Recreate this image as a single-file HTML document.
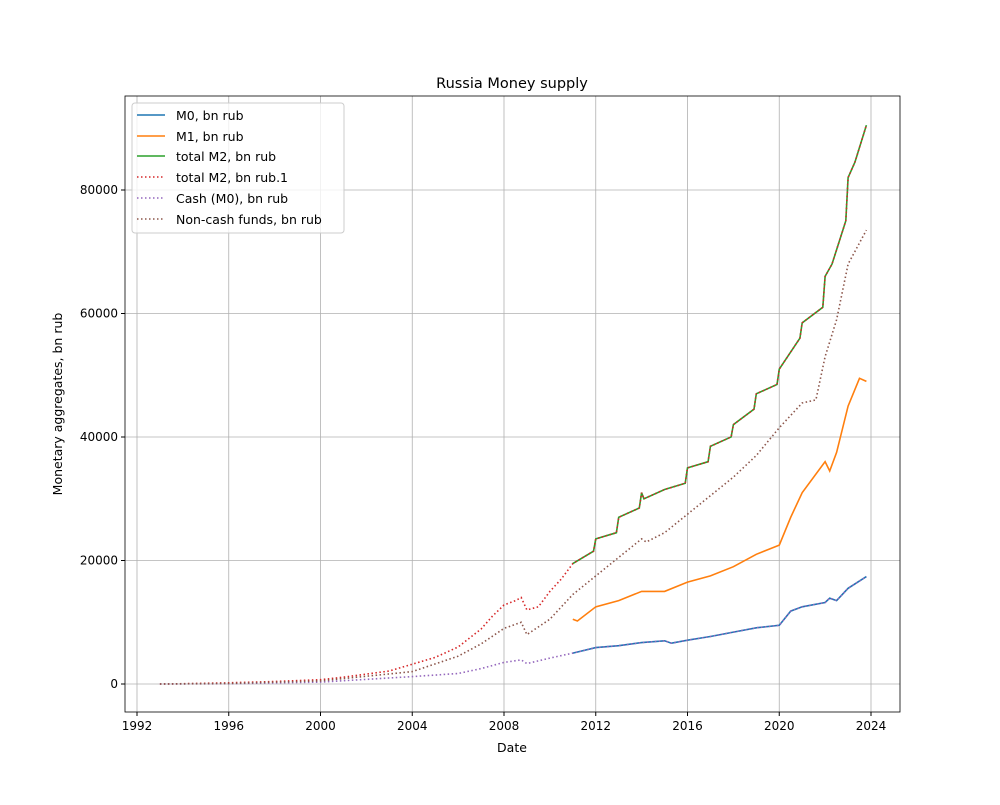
<!DOCTYPE html>
<html><head><meta charset="utf-8"><style>
body{margin:0;background:#fff;}
svg text{font-family:"DejaVu Sans","Liberation Sans",sans-serif;}
</style></head><body>
<svg id="c" width="1000" height="800" xmlns="http://www.w3.org/2000/svg"></svg>
<script>
const xTicks=[1992,1996,2000,2004,2008,2012,2016,2020,2024];
const yTicks=[0,20000,40000,60000,80000];
const m2oldX=[1993,1994,1996,1998,2000,2001,2002,2003,2004,2005,2006,2007,2007.5,2008,2008.5,2008.75,2009,2009.5,2010,2010.5,2011];
const m2oldY=[0,50,200,400,700,1100,1600,2100,3200,4300,6000,8900,11000,12800,13500,14000,12000,12500,15000,17000,19500];
const m2X=[2011,2011.9,2012,2012.9,2013,2013.9,2014,2014.1,2015,2015.9,2016,2016.9,2017,2017.9,2018,2018.9,2019,2019.9,2020,2020.9,2021,2021.9,2022,2022.3,2022.9,2023,2023.3,2023.8];
const m2Y=[19500,21500,23500,24500,27000,28500,31000,30000,31500,32500,35000,36000,38500,40000,42000,44500,47000,48500,51000,56000,58500,61000,66000,68000,75000,82000,84500,90500];
const ncX=[1993,1996,2000,2004,2006,2007,2008,2008.75,2009,2010,2011,2012,2013,2014,2014.2,2015,2016,2017,2018,2019,2020,2021,2021.6,2022,2022.5,2023,2023.8];
const ncY=[0,100,500,2000,4500,6500,9000,10000,8000,10500,14500,17500,20500,23500,23000,24500,27500,30500,33500,37000,41500,45500,46000,53000,59000,68000,73500];
const cashX=[1993,1996,2000,2004,2006,2007,2008,2008.75,2009,2010,2011];
const cashY=[0,50,300,1200,1700,2500,3500,3900,3300,4200,5000];
const m0X=[2011,2012,2013,2014,2015,2015.3,2016,2017,2018,2019,2020,2020.5,2021,2022,2022.2,2022.5,2023,2023.8];
const m0Y=[5000,5900,6200,6700,7000,6600,7100,7700,8400,9100,9500,11800,12500,13200,13900,13500,15500,17400];
const m1X=[2011,2011.2,2012,2013,2014,2015,2016,2017,2018,2019,2020,2020.5,2021,2022,2022.2,2022.5,2023,2023.5,2023.8];
const m1Y=[10500,10200,12500,13500,15000,15000,16500,17500,19000,21000,22500,27000,31000,36000,34500,37500,45000,49500,49000];

const L=125,R=900,T=96,B=712;
const sx=v=>137+(v-1992)*(871-137)/32;
const sy=v=>684-v*(684-190)/80000;
const svg=document.getElementById('c');const NS='http://www.w3.org/2000/svg';
function mk(t,a,p){const e=document.createElementNS(NS,t);for(const k in a)e.setAttribute(k,a[k]);(p||svg).appendChild(e);return e;}
// grid
xTicks.forEach(v=>{
 const g=mk('line',{x1:sx(v),x2:sx(v),y1:T,y2:B,stroke:'#b0b0b0','stroke-width':0.8});
 
 
 mk('line',{x1:sx(v),x2:sx(v),y1:B,y2:B+4,stroke:'#000'});
 const t=mk('text',{x:sx(v),y:B+18,'text-anchor':'middle','font-size':12});t.textContent=v;
 
 
});
yTicks.forEach(v=>{
 const g=mk('line',{x1:L,x2:R,y1:sy(v),y2:sy(v),stroke:'#b0b0b0','stroke-width':0.8});
 
 
 mk('line',{x1:L-4,x2:L,y1:sy(v),y2:sy(v),stroke:'#000'});
 const t=mk('text',{x:L-7,y:sy(v)+4,'text-anchor':'end','font-size':12});t.textContent=v;
 
 
});
function line(xs,ys,col,dash,name){
 const d=xs.map((x,i)=>(i?'L':'M')+sx(x).toFixed(1)+','+sy(ys[i]).toFixed(1)).join('');
 const p=mk('path',{d:d,fill:'none',stroke:col,'stroke-width':dash?1.6:1.6});
 if(dash)p.setAttribute('stroke-dasharray','1.5,2.5');
 
 
}
line(m0X,m0Y,'#1f77b4',0,'m0-line');
line(m1X,m1Y,'#ff7f0e',0,'m1-line');
line(m2X,m2Y,'#2ca02c',0,'m2-line');
line(m2oldX.concat(m2X.slice(1)),m2oldY.concat(m2Y.slice(1)),'#d62728',1,'m2-alt-line');
line(cashX.concat(m0X.slice(1)),cashY.concat(m0Y.slice(1)),'#9467bd',1,'cash-line');
line(ncX,ncY,'#8c564b',1,'noncash-line');
const fr=mk('rect',{x:L,y:T,width:R-L,height:B-T,fill:'none',stroke:'#000','stroke-width':0.8});


</script>
<svg style="position:absolute;left:0;top:0" width="1000" height="800" xmlns="http://www.w3.org/2000/svg">
<text x="512" y="88" text-anchor="middle" font-size="14.5">Russia Money supply</text>
<text x="512" y="752" text-anchor="middle" font-size="12.5">Date</text>
<text transform="translate(62,404) rotate(-90)" text-anchor="middle" font-size="12.5">Monetary aggregates, bn rub</text>
<g font-size="12.5">
<rect x="132" y="103" width="212" height="130" rx="3" fill="#fff" fill-opacity="0.8" stroke="#ccc"/>
<g><line x1="137" x2="165" y1="115" y2="115" stroke="#1f77b4" stroke-width="1.6"/><text x="176" y="120">M0, bn rub</text></g>
<g><line x1="137" x2="165" y1="136" y2="136" stroke="#ff7f0e" stroke-width="1.6"/><text x="176" y="141">M1, bn rub</text></g>
<g><line x1="137" x2="165" y1="156" y2="156" stroke="#2ca02c" stroke-width="1.6"/><text x="176" y="161">total M2, bn rub</text></g>
<g><line x1="137" x2="165" y1="177" y2="177" stroke="#d62728" stroke-width="1.6" stroke-dasharray="1.5,2.5"/><text x="176" y="182">total M2, bn rub.1</text></g>
<g><line x1="137" x2="165" y1="198" y2="198" stroke="#9467bd" stroke-width="1.6" stroke-dasharray="1.5,2.5"/><text x="176" y="203">Cash (M0), bn rub</text></g>
<g><line x1="137" x2="165" y1="219" y2="219" stroke="#8c564b" stroke-width="1.6" stroke-dasharray="1.5,2.5"/><text x="176" y="224">Non-cash funds, bn rub</text></g>
</g>
</svg>
</body></html>
